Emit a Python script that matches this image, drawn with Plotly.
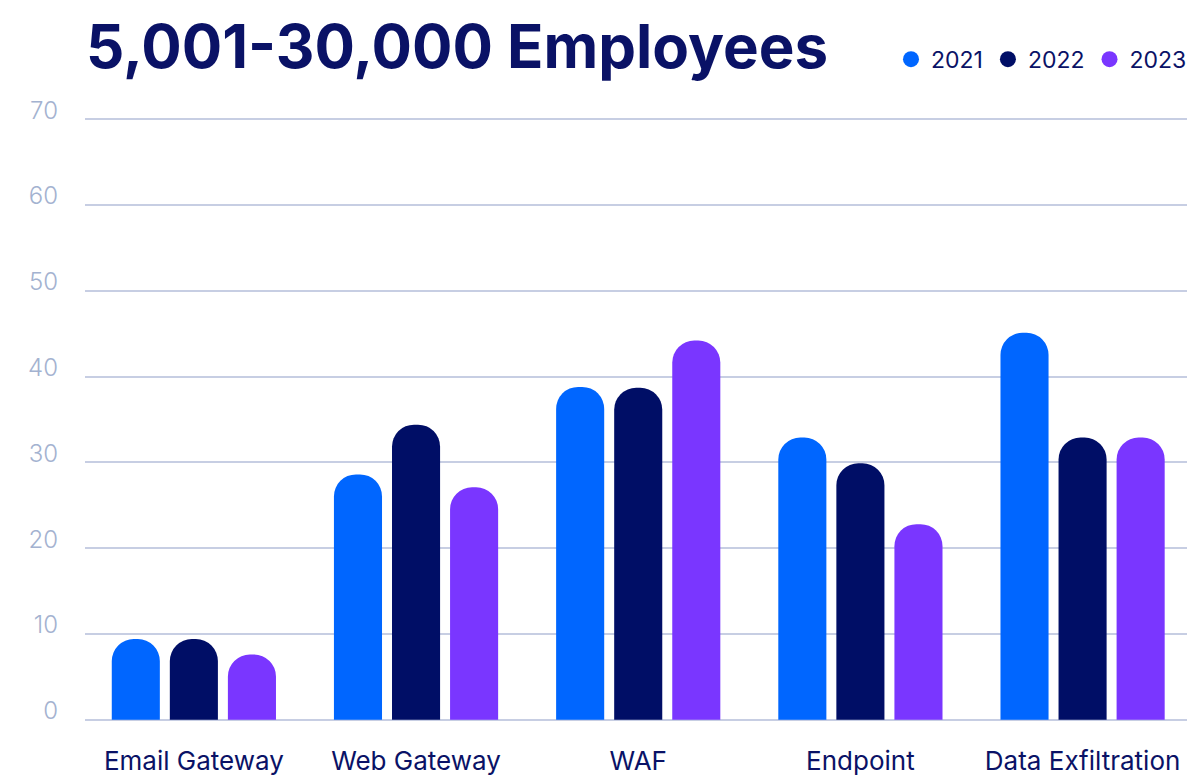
import plotly.graph_objects as go

# Survey categories and yearly shares (%)
categories = ["Email Gateway", "Web Gateway", "WAF", "Endpoint", "Data Exfiltration"]
years = ["2021", "2022", "2023"]
values_2021 = [9.4, 28.6, 38.8, 32.9, 45.1]
values_2022 = [9.4, 34.4, 38.7, 29.9, 32.9]
values_2023 = [7.6, 27.1, 44.2, 22.8, 32.9]
y_ticks = [0, 10, 20, 30, 40, 50, 60, 70]

series = [values_2021, values_2022, values_2023]
colors = ["#0066FF", "#000E66", "#7A36FF"]
navy = "#0A1266"
tick_grey = "#A3B2D0"
grid_col = "#C7CEE3"
font_family = "Inter, 'Open Sans', sans-serif"

fig = go.Figure()

for year, vals, col in zip(years, series, colors):
    fig.add_trace(go.Bar(
        x=categories, y=vals, name=year,
        marker=dict(color=col, cornerradius=22, line=dict(width=0)),
        showlegend=False,
    ))

# Round legend markers
for year, col in zip(years, colors):
    fig.add_trace(go.Scatter(
        x=[None], y=[None], mode="markers", name=year,
        marker=dict(symbol="circle", size=17, color=col),
        showlegend=True,
    ))

fig.update_layout(
    width=1193, height=779,
    margin=dict(l=85, r=6, t=118, b=58, autoexpand=False),
    paper_bgcolor="white", plot_bgcolor="white",
    barmode="group", bargap=0.216, bargroupgap=0.172,
    font=dict(family=font_family, color=navy),
    title=dict(
        text="<b>5,001-30,000 Employees</b>",
        x=86 / 1193, xanchor="left", xref="container",
        y=0.94, yanchor="middle", yref="container",
        font=dict(size=60, color=navy, family=font_family),
    ),
    legend=dict(
        orientation="h", x=1192 / 1193, xanchor="right", xref="container",
        y=0.924, yanchor="middle", yref="container",
        font=dict(size=23, color=navy, family=font_family),
        bgcolor="rgba(0,0,0,0)", traceorder="normal",
    ),
    xaxis=dict(
        type="category", range=[-0.49, 4.47], automargin=False,
        showgrid=False, zeroline=False, showline=False,
        ticks="", tickfont=dict(size=26, color=navy, family=font_family),
        ticklabelstandoff=22,
    ),
    yaxis=dict(
        range=[-0.15, 70.15], tickvals=y_ticks, automargin=False,
        showgrid=True, gridcolor=grid_col, gridwidth=2,
        zeroline=False, showline=False, ticks="",
        tickfont=dict(size=24, color=tick_grey, family=font_family, weight=300),
        ticklabelstandoff=26, ticklabelshift=-9,
    ),
)

fig.write_html("out.html")
